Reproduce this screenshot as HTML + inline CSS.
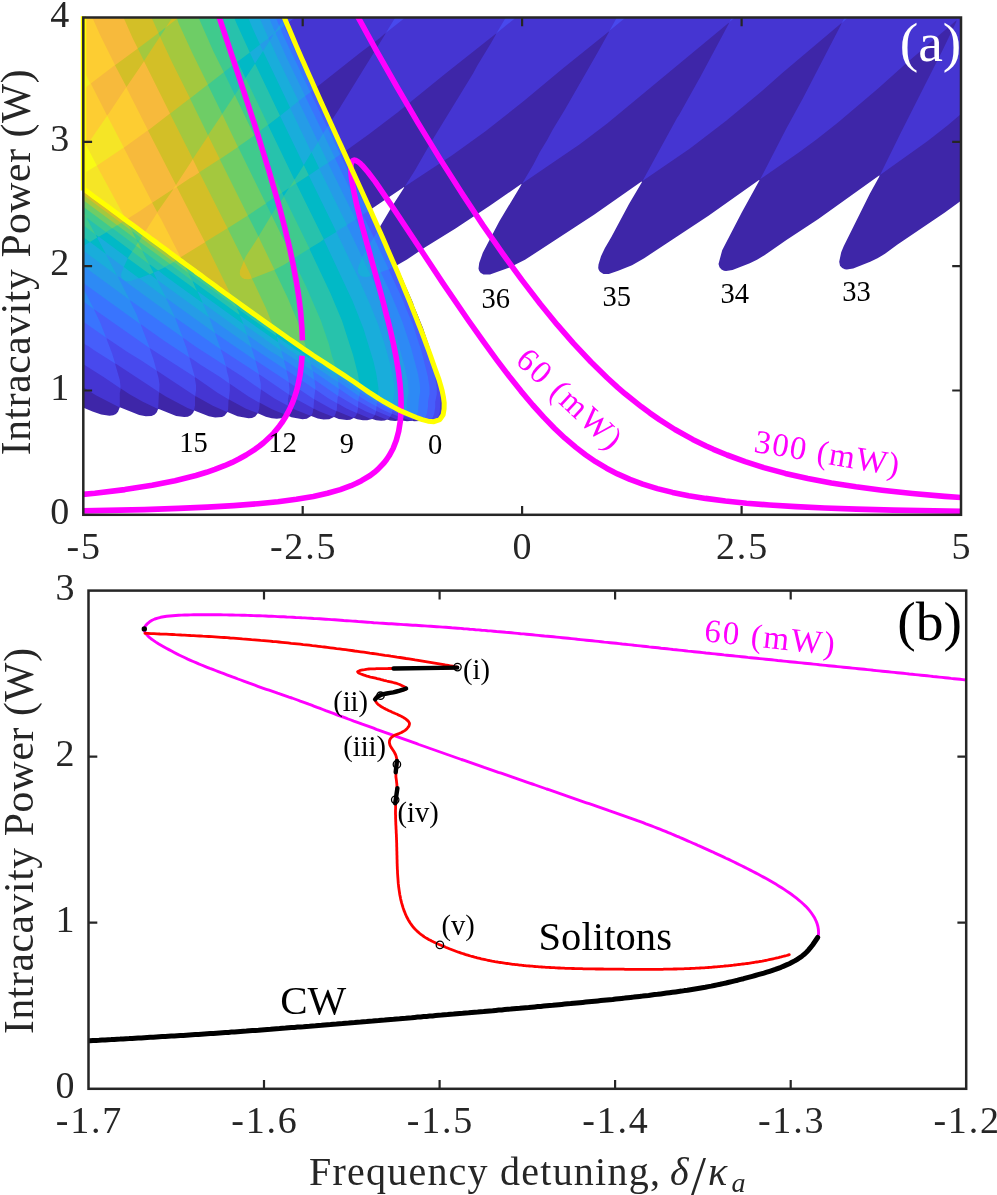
<!DOCTYPE html>
<html><head><meta charset="utf-8"><title>Figure</title><style>html,body{margin:0;padding:0;background:#fff}svg{display:block;will-change:transform}</style></head><body>
<svg width="997" height="1195" viewBox="0 0 997 1195">
<defs><clipPath id="ca"><rect x="83.3" y="17.5" width="877.7" height="497.3"/></clipPath><clipPath id="cb"><rect x="88.5" y="590.6" width="877.7" height="498.2"/></clipPath></defs>
<rect width="997" height="1195" fill="#fff"/>
<g clip-path="url(#ca)">
<path d="M76,411.8L77.8,408.2L78.2,405.5L92.5,411.5L101.2,414.5L109.5,415.8L113.2,415.2L116,414L118,411.8L119.8,407.2L139.2,415L145.8,416.2L151.5,416L154.8,414.5L156.8,412.2L158,409.2L158.8,409L176.2,416L184.2,417L187.8,416.8L190.8,415.2L193,413L194.2,410.5L208.8,416.2L215.2,417.5L222,417L224.5,415.8L227.5,412L237.5,416.2L248.5,418.2L252,418L255.2,416.5L257.8,413.2L265.8,416.8L271.8,418.2L276.8,418.8L281,418.2L283.5,417L285.8,414.8L291.5,417.2L302.5,419.2L306.8,418.8L311.2,416L317.8,418.5L323.5,419.5L329.2,419.2L334,417L338.8,419L346.8,420L350.2,419.8L353.8,418L357.2,419.2L363,420.2L367.2,420.2L372.2,419L376.2,420.2L381.2,420.8L384.8,420.5L387,419.5L390.2,420.5L395.2,421L400.5,420.2L407,421.2L412.2,420.8L414,421.2L420.2,421L434.8,421.8L439.5,420L441.8,417.8L443.5,414L444.2,409.5L444.2,402.5L442.2,389L439,376.2L423,328L414,306.2L413,302.8L396.5,265.5L407,259.5L425.2,247.2L455.5,228.5L489.8,205.8L521.2,184L521.5,184.5L499.5,221L482.8,252.8L479.2,263L478.5,268.5L479,270.5L480.5,272.8L483.5,274.5L490,274.5L509.5,267.5L525,259.8L594,214.8L641.5,181.5L642,182L629,204L611.5,236.8L604.8,248.2L601,256.2L598.5,264.5L598.2,268L598.8,270L600,271.8L603.5,274L608.8,274L618.2,270.8L632,265.2L644.2,258.2L708.5,215.8L759,180L759.5,180.2L742,212L722.2,250.2L718.5,264L719.5,267.2L721.5,269.5L724,270.8L726,271L732.5,270L749.8,263.2L757,259.8L764.5,255.2L786.8,239.8L818,219.2L879.5,175.2L879.2,176.8L869.8,193.8L843.8,246L841.2,252.2L839.2,261.8L840,265.8L842.2,268L844.8,269.2L846.8,269.5L853.2,268.5L870.2,261.8L877.5,258.2L885,253.8L897.2,244.8L944.5,212.8L970.8,193.5L970.8,10L76,10ZM404,187L404.2,187.5L391.8,206.8L379.5,227.5L371,209.2Z" fill="#3e26a8" fill-rule="evenodd"/>
<path d="M76,404.5L78,405.5L78.2,403.5L78,391.5L78.5,384L95.8,395.2L119.2,407.2L119.8,406.5L119.8,393L120.8,388.5L129.5,394.2L142.8,401.8L157.5,408.8L158.2,408.5L158.8,396L159,393L159.5,392.5L165.8,396.5L187.5,408L194,410.5L195,405.5L195,396.8L195.8,396.2L212.8,405.8L227,412L227.8,411L228.2,408.2L228.5,400.2L229,399.5L246,408.8L257.8,413.2L259.2,408.8L259.8,402.8L272,409.2L285.5,414.8L287.2,411L288,405.8L295.2,409.8L310.5,415.8L311.5,415.2L312.8,412.5L313.2,409L314,408.8L319,411.2L333,416.8L333.8,416.8L334.8,415.8L336.5,411L353.5,418L355.8,416L356.8,413.8L357.5,413.2L370.5,418.8L372.2,418.5L375,415L386.2,419.5L388.2,419L390.2,416.8L396,419.2L399.8,420.2L403,418.2L411,420.8L414,419.8L418.2,421L421.8,420.5L425,421.2L433.8,421.8L438.5,420L440.8,417.8L442.2,414.8L443.2,409.5L442.8,393.5L435,364.8L428.5,344.2L417.2,314L412.5,303.5L408,291.8L404.2,284L403.2,280.5L379.5,227.5L379.2,228L378.8,227.8L370.2,210.2L370.8,208.8L344.2,152L369.2,134L397.5,112.5L446.5,72.8L495.8,33.8L496,34.2L491.2,42.8L477.5,65.2L473.2,73.2L432.2,140.2L415,170.2L404.8,186.5L452.2,155.2L485.5,131.2L523.8,101L562.2,69L608.8,31.5L609,32L598.2,51.5L564.8,109.8L552.8,129.5L547,140.2L540,151.8L533,165.2L522.2,183.5L579.8,144.2L607.2,123.5L728.8,22.8L729,23.2L700.8,76L679.2,114.8L677,118L642.5,181L690,148.5L726.2,120.8L760.8,92L782,73.2L841.2,23.2L841.5,23.8L803.2,97.8L786.2,128.8L760.2,179.2L799.5,152L816.8,139.2L838,122.5L877.8,88.8L904,65.2L956.5,20.2L956.2,22L942.8,49.8L900.8,132.8L880,175L927,141.5L947.8,125.2L970.8,105.5L970.8,10L76,10ZM385.2,33.2L385.5,33.8L338,110.8L330.5,122L324.8,110.5L315,88.5L360.5,52.5L379.5,38.2Z" fill="#4535d2" fill-rule="evenodd"/>
<path d="M76,373.2L76,382.2L78.2,384L77,376.2ZM968.2,10L962,10L957,19.8ZM856.8,10L848.5,10L841.8,23ZM743.8,10L736,10L729.5,22ZM634.8,10L621,10L609.5,30.8ZM525.2,10L510.2,10L496.5,33.2ZM414.8,10L399.8,10L386,32.8ZM76,10L76,359.5L103.2,376.8L120.2,388.2L120.5,386.5L119.8,380L115.2,364.2L115.5,363.5L159.2,392.2L159.5,384.2L158.5,377.8L156.8,371.5L157,370.8L195.2,396L196,390.5L196,385L194.8,378.2L195.2,377.2L217.5,392.8L228.8,399.5L229.8,390.2L229.8,383.8L248.5,396.5L259.5,402.8L261,389.5L274.5,398.5L287.8,405.8L288,399L289,394.5L295.5,398.8L313.5,408.5L314.2,399.2L331.2,408.8L336.2,411L336.8,410L337.2,403.8L337.8,403.5L346,408.2L356.5,413L357.2,412.5L358.2,407.5L366,411.5L374.8,415L376.2,411L390,416.8L392,413.8L402.8,418.2L404.8,416.2L412.8,419.5L415.5,418.5L420.8,420.5L422.5,420L426.8,421.2L430.8,421.5L433.2,421L435.8,419.8L437.8,417.8L439.8,412L440.8,390.5L438.8,379.2L428,349.2L421.2,328L420,325.8L414.8,311L395,266.5L396.2,265.2L379,228.2L378.5,228.5L353.8,173L343.8,152.2L344.2,152L341.5,145.8L337.5,138L331.2,123.8L329.8,121.5L316,91.2L315,88L300.2,55.5L287,24.2L287.2,23.5L304.5,10L289,10L284.2,17.2L281,10Z" fill="#4849ed" fill-rule="evenodd"/>
<path d="M76,10L76,337.8L86,345L88.2,346L93.8,350L115.2,363.5L112,353.2L106.5,338.8L107,338.2L127.8,352.2L140.2,359.8L156.5,370.5L153.5,359.5L149.8,348.8L150,348.2L194.8,377L189.5,358L190,357.5L200.5,364.8L220.5,377.2L229.2,383.5L228.8,378L227,371.8L226.2,366.2L243,377L260.8,389.5L260.8,384L259,375L259.5,374.5L288.8,394.5L289.5,389.2L288.8,382.8L289.2,382.5L314,399.2L315.2,390L315.8,389.8L327.8,398L337,403.2L337.8,397L338.5,396L358,407.5L358.2,401.8L358.8,401.5L376,411L376.5,406.8L377,406.5L381,409L391.5,413.8L392.5,411L404.2,416.2L405.8,414.5L414.2,418.2L415.8,417.5L424.8,420.8L428,421L430.5,419.8L432.8,417.2L434.2,413.8L435.2,407L435.2,402L436.8,394.2L436.8,387.2L434,371.5L426.5,344.2L404.8,289L394.8,267L395,266.2L382,236.8L381,233.5L378.8,228.8L378,230.2L377.2,230.5L368,211.5L370,210L369.8,208.8L343,152.8L343.8,152.2L331,123.8L330.2,122.2L329.5,123.5L329,123.2L313.2,90L314.8,88L294.8,44.5L286.8,25.8L286.5,24.2L287,23.8L284.2,17.5L283.5,17.8L280.5,10.2Z" fill="#465efb" fill-rule="evenodd"/>
<path d="M76,10L76,316.5L106,337.5L100,322L94.2,310L94.5,309.5L149.8,348.2L140.8,324.8L141.2,324.5L164.5,341L189.2,357.2L186.5,348L183,338.8L183.5,338L196.2,347L225.8,366L222.8,355L220.8,350L221,349.5L259,374.2L255.5,361L255.8,360.5L288.8,382.2L288.2,377.2L286.5,371L286.8,370.2L315.2,389.5L315.5,387.2L314.5,381L315,380L337.8,395.8L338.2,395.2L339,388.8L353.2,398.5L358.2,401.2L359.2,396.2L367.8,401.8L376.2,406.2L376.8,405.8L376.8,403L377.2,402.8L392.2,411L392.5,409L393,408.8L398.2,411.8L405.5,414.5L406,413.5L415.2,417.5L416,417.2L422,419.8L423.5,419.5L425.2,417.5L427,413.5L428,406.8L428,401.8L429.5,394L429.5,387.2L428,377L421.5,351.2L412.8,324.2L405,306L404,302.5L388.8,269.8L389.2,269L394.5,266.2L377.5,231L373.8,237.2L362.8,215.2L363.2,214.2L368,211.2L340.2,154.8L343,152.5L329.2,123.8L327.5,126.8L326.8,126.5L310.5,92.2L313.2,89.8L295.8,52.8L284,26L286.2,24L283.8,18.2L282.2,20.5L281.8,20.2L277.5,10.2Z" fill="#3974fe" fill-rule="evenodd"/>
<path d="M76,10L76,296.2L94,309.2L79.5,281L79.8,280.5L140.2,324L136.5,314.2L130.5,302L130.2,300.2L182.8,337.5L175.2,318.2L175.8,318L220.8,349.5L215.2,333.8L215.5,333.2L255.5,360.5L251.5,347.8L252,347.5L286.5,370.2L284,360.8L284.2,360L299,369.8L301.2,370.8L314.2,379.8L313,371.2L338.8,388.8L338.2,382.5L338.8,382.2L358.8,396L359.2,395.8L360,392.2L377,402.8L377.2,400.2L392.8,408.5L392.8,407.5L393.2,407.2L404,413L408.5,414L415.8,417.2L418,411.8L419,398.5L420.2,391.8L419.8,384L418,374L411.2,348.2L402.2,321.2L389.8,291.2L380.8,272.2L388.8,269.2L373.8,237.5L368.5,245.8L355.8,219.8L356,219L362.5,214.5L335,158.2L340.2,154.5L327.2,127.2L323.2,133.2L305.2,96.2L310,92.5L310.2,91.8L282.2,33.2L280.8,28.8L284,26L282.2,21L279.2,25.2L278.8,24.8L272.8,10Z" fill="#2d8af5" fill-rule="evenodd"/>
<path d="M76,274.2L76,277.8L79.2,280.2ZM76,10L76,260.5L129.8,300L118,277L118.5,276.5L175.2,317.8L166.2,298.8L166.5,298.2L215.2,333.2L209.5,318.2L210,318L251.5,347.2L247.5,335.8L247.8,335.2L270.5,351.2L278.5,356L284,360L281.8,353.2L281.5,350.8L312.8,371L311,365L311.2,364.2L338.2,382L337.8,377L348.5,384L359.8,392.2L359.8,389L360.2,388.8L376.8,400L377.5,398.5L388.5,405L406,413.2L406.8,408.8L407,401.2L408.5,393.8L408.5,389L407.8,381L405,367.8L398.5,344.2L391.8,323.8L381.8,299.2L371.2,276.5L371.5,275.8L377.8,273.5L380.8,271.8L368.5,246L362.5,256.8L362,256.8L347,225.5L347.2,224.8L355.2,219.8L355.5,219L328,163L335,158L323.2,133.5L318,141.8L298.5,101.2L305.2,96L286.8,58L275.5,32.8L280.5,28.8L279.2,25.5L275.2,31.5L274.8,31.2L265.8,10ZM273,34.5L273.2,35L269.8,40.2L268.5,38.2Z" fill="#259ce7" fill-rule="evenodd"/>
<path d="M362.2,257L358.2,267.2L357.8,269.8L358.2,272.8L360.2,275.5L362.8,276.8L366.8,277L371,276ZM275.2,32L273.5,34.2L275.5,32.8ZM76,10L76,252L76.2,250.2L80,248.2L117.2,275.8L106.2,254.8L106.8,254.5L123.5,267L121,274.2L121.5,277.5L123.2,279.8L125.8,281L129.5,281.2L139.2,278.2L166.2,298.2L157.5,280.8L157.8,280.2L209.2,317.5L203,303.8L203.5,303.5L247.2,335L243.8,325L244,324.5L281.2,350.8L278.8,343.2L279,342.8L289.2,350L310.8,364L309.5,359.2L310,358.8L337.5,377L336.5,373.8L337,373.2L359.8,388.5L360,386.8L377.2,398.5L377.5,397.8L392.8,406.8L393,401L394.8,391.2L394.2,383.5L390.5,365L384,342L377.8,323.5L370.2,304.8L357.8,276.8L336.5,232.2L338,230.5L346.8,225.2L346.8,224.5L319.5,169L320,168L328,162.8L318,142L311.8,151.8L311,151.5L290.2,108L298.5,101L277.5,57.8L269.8,40.5L263,51L260,44.5L268.5,38.2L261.2,21.8L256.8,10.2Z" fill="#19addb" fill-rule="evenodd"/>
<path d="M76,10L76,245.2L79.8,248.2L90,242L106,254L97.2,237.8L99,236.8L127.8,258.2L123.8,267L139,278.2L149.8,274.2L157.2,280L153.5,272.8L158,270.8L159,271L163.5,274.8L202.5,303L202.2,301.5L197.5,291.8L198,291.5L243.5,324.2L240,316L240.2,315.5L278.2,342.2L276.8,337L277,336.5L292,347.2L309.5,358.5L308.8,355L336.5,373L336.2,371.2L337.5,371.5L359.8,386.8L360,386L377.2,397.8L378.2,393L378.5,388.5L376.2,373.2L373.5,361.5L363.5,328.8L352.8,301.5L324,240L324.2,239.2L335.8,232.2L336.2,231.5L308.8,175.5L319.2,168.2L311.5,152.2L303.8,165L280.2,116.2L280.8,115.2L290.2,107.8L263,51L255,63.5L249.8,52.5L260,44.5L252,27L245.2,10Z" fill="#01b9c6" fill-rule="evenodd"/>
<path d="M76,10L76,231.8L90,242L97.2,237.5L96,235.5L96.2,235L98.8,236.8L106.5,232.2L132.2,251.5L127.8,258.2L149.8,274.2L153.5,272.8L149.5,265L150,264.5L158,270.5L165,267.2L193.2,287.8L197,291L192.8,281.8L193,281.2L239.5,315L239.2,313.2L237,308.8L237.5,308.5L276.5,336.2L275.2,332.5L275.5,332L286.5,340L308.5,354.8L308.2,352.8L335.5,370.5L336,370.8L336.2,370.2L359.8,386L358,374.5L353.2,355.5L342,320.8L330.2,292.8L309.5,249L310.2,248L320.2,242L323.8,239.2L296.2,183.5L308.8,175.2L303.8,165L295.2,178.8L294.2,179.2L268,125L280,115.8L255.2,64L254.8,64L245.5,78L237.5,61.8L249.8,52.5L236.8,24L231,10ZM289,188L283.8,196L282,192.8Z" fill="#27c2ac" fill-rule="evenodd"/>
<path d="M294.5,179.8L289.5,187.8L296.2,183.2ZM76,10L76,219.8L95.2,234.2L86.8,218.5L87,218L106,232L111.5,228.8L112.8,228.5L135,245L135.8,246L132.2,251.5L149,264L142.5,251.5L143,251L164.5,267L169.5,264.2L170.5,264.5L192.2,280.8L188.8,273.8L189,273.2L231.8,304L236.2,307.8L236.8,307.8L234.8,303.8L235.2,303.2L275,331.8L274.2,329.8L274.5,329.2L307,352L307.8,352.5L307.8,351.8L335.8,370L333.8,360.8L332.2,357L328.8,343.8L320.8,320.5L306.2,286.8L293.2,259.5L294,258.2L309.5,248.5L284,196.5L271.5,214.8L266,203.8L267.2,202.2L282,192.8L254.2,135.8L255.2,134.5L268,124.8L245.8,78.5L234.8,95L223.8,72.2L237.5,61.5L221.2,26.5L214.5,10ZM136.8,239.5L139,241.2L138,242.5L136.5,240Z" fill="#40ca8d" fill-rule="evenodd"/>
<path d="M138,242.5L136,245.8L142,250.2ZM76,10L76,209.8L86,217L78.5,203.8L79,203.5L112.2,228.2L117.2,225.2L136.2,239.2L132.2,231.8L132.8,231.5L141,238L139.2,241.5L170,264L173.8,262L188.2,272.8L185.8,267.8L186.2,267.5L234.2,302.5L233.5,301L234,300.2L273.8,328.8L274,328.2L298,345.2L307.2,351.2L303.2,337.8L297,320L287.5,297.5L274.5,270.2L275,269.5L284,264.8L293.2,259L271.5,215L258.5,236.5L247.8,215.5L265.8,203.5L238.2,147.2L238.8,146.2L253.8,135.8L254,135L234.8,95L222.2,114L207.8,84.8L223.8,72.2L213.2,51L195.2,10Z" fill="#6ecd66" fill-rule="evenodd"/>
<path d="M76,199L76,201.2L78,202.8ZM76,10L76,194.8L117.2,225.2L121.2,223L131.5,230.8L129.2,226L129.5,225.5L142.8,235.5L141.2,237.8L141.5,238.2L172.2,261L173.8,261.8L175.8,260.2L176.5,260.2L185.5,267L184,264.5L184.2,264L224,293.2L232.8,299.5L233.2,299L273.8,328L266,308.2L252,278.5L274.5,269.8L258.5,236.8L246,256L243.8,260.8L227.8,228.8L228,228L247.8,215.5L219.8,159.2L238,147L222.2,114.2L208,135.2L190,98.5L207.8,84.5L192.5,53.5L178.5,23L177.2,19.2L178.2,17.8L188.2,10L177.2,10L175,13.2L173.2,10ZM165.2,27.8L165.2,28.8L160,36.5L158.5,33Z" fill="#a4c83e" fill-rule="evenodd"/>
<path d="M243.8,261L240,270.5L239.8,273.2L240.2,275.5L242,277.8L244.5,279L248.5,279.2L251.8,278.5L250.5,274.8ZM174.8,13.8L166,27.2L177,18.8ZM76,10L76,189.5L120.8,222.8L123.8,221.2L129,225.2L127.5,222.8L128,222.2L143.5,234L142.8,235.5L166.2,252.5L170,255.8L176,260L177.8,259L183.5,263.5L183.8,263L232.8,298.8L205.2,242.5L205.5,241.8L227.5,228.2L199.5,172.8L199.8,172L219.8,159L208.2,135.8L192.8,159L170,113.8L190,98.2L171.5,61.2L160,36.5L144,61L137.8,48.5L158.5,33L148.2,10Z" fill="#d3bf27" fill-rule="evenodd"/>
<path d="M76,10L76,186.2L123.8,221L125,220.2L127,221.8L127.5,221.2L143.5,233L144,234.2L174.8,257L177.2,258.8L178.2,258.8L183,262.2L180.8,257.8L181,257L205,242.2L176.8,187L189.8,178.2L194,176L199.2,172.5L192.8,159.2L176,185L148,130.5L170,113.5L144,61.2L126.5,87L115,65.2L137.8,48.5L132.8,38.5L120.2,10ZM172.8,189.2L173,189.8L157.2,212.2L152.2,202.8Z" fill="#f7ba3c" fill-rule="evenodd"/>
<path d="M157.2,212.8L144,233.5L178.2,258.8L180.5,257L161,219ZM176,185.2L173.5,189L176.8,186.8ZM76,10L76,184L120.8,216.8L124.5,220L126.2,220.5L126,219.8L139.5,211.2L152.2,202.5L123.8,147.8L148,130.2L126.2,87.2L108.8,113.5L107.2,115.2L106.8,115L90.8,83.5L115,65L100.2,35.2L89,10Z" fill="#fdcd32" fill-rule="evenodd"/>
<path d="M76,126L76,183.2L125.5,220L125.8,219.2L96.8,165.8L123.8,147.5L107.2,115.8L86.5,145.8ZM76,54.8L76,95L90.5,83.8ZM76,16.2L84,10L76,10Z" fill="#f5e526" fill-rule="evenodd"/>
<path d="M86.5,145.8L76,161.5L76,178.8L83.5,173.5L96.8,165.5Z" fill="#f9fb15" fill-rule="evenodd"/>
</g>
<g clip-path="url(#ca)" fill="none" stroke-linejoin="round" stroke-linecap="round">
<path d="M61.9,511.3L144.2,509.6L178.4,508.4L207.4,507.1L233.7,505.6L257.7,503.7L278,501.7L296.4,499.3L313.3,496.4L327.4,493.3L340.3,489.6L351,485.7L356.4,483.3L361.5,480.7L370.2,475.5L374.4,472.3L377.8,469.4L383.9,463L386.6,459.5L389.1,455.8L393.1,448.5L396.3,440.2L398.7,431.2L400.3,421.3L401.1,409.7L401,397.5L400.1,384.8L398.5,371.7L396.3,358.1L393.4,343.6L389.7,327.4L381.5,295.8L361.4,223.4L357.1,206.3L353.9,192L351.5,178.1L350.9,172.6L350.8,168.2L351,164.7L351.7,162.1L352.8,160.6L354.3,160.1L355.8,160.5L357.6,161.4L359.8,163.1L362.2,165.4L367.9,172L375.2,181.6L391.4,205.3L443.2,283.6L468.1,320L483.1,341.2L496.7,359.8L509,376L521,391.1L532.7,405L543.9,417.4L554.4,428.2L565,438.2L575.9,447.4L585.8,455L595.6,461.7L606.5,468.2L617.5,473.9L629.9,479.4L642.7,484.1L657.3,488.6L672.5,492.4L688.6,495.7L705.6,498.4L725.4,501L746.5,503.2L769.3,505L795.9,506.6L824.8,508L856.3,509.1L893.3,510.1L984.8,511.7" stroke="#f0f" stroke-width="5.6"/>
<path d="M62.2,496.4L94.9,493.3L124.8,489.6L152.1,485.3L175,480.7L195.9,475.5L206.5,472.3L214.9,469.4L224.5,465.7L232.1,462.4L239.3,458.8L246.1,455L255,449.3L259.5,446L263.6,442.7L270.8,436.1L273.9,432.8L279.3,426.2L281.7,422.9L285.8,416.4L289.3,409.9L292.2,403.4L294.6,397L296.6,390.6L298.2,384.2L300.1,374.6L301.3,365.2L302.1,355.8" stroke="#f0f" stroke-width="5.6" stroke-linecap="butt"/>
<path d="M302.4,340.3L301.9,328L300.7,312.8L298.9,297.7L296.6,282.9L293.3,265.2L289.6,247.9L284.8,227.9L279.7,208.3L268.7,170.1L254.9,125.4L240.9,82.6L207.7,-17.4L193.9,-60" stroke="#f0f" stroke-width="5.6" stroke-linecap="butt"/>
<path d="M318.3,-60L336.4,-23.9L356.3,13.9L376.6,51.1L397.3,87.5L418,122.8L440.3,159.4L462.7,194.5L482.9,225.1L502.7,253.6L521.8,279.9L540.1,303.7L557.4,324.9L573.5,343.4L591,362L607.1,377.8L617.6,387.4L625.1,393.8L641.2,406.6L650,413.1L659.4,419.6L674.9,429.5L692.7,439.4L706.1,446L713.4,449.3L727.1,455L745.2,461.7L763.8,467.6L785.3,473.4L807.8,478.4L831.3,482.9L856,486.8L882.1,490.2L912.4,493.5L944.7,496.4L982.4,499.1" stroke="#f0f" stroke-width="5.6"/>
<path d="M273.7,-8.8L275.9,-3.2L278.1,2.4L280.4,8L282.7,13.6L285,19.2L287.3,24.7L289.7,30.3L292,35.8L294.4,41.4L296.7,46.9L299.1,52.5L301.5,58L304,63.5L306.4,69L308.8,74.5L311.3,80L313.7,85.6L316.2,91.1L318.6,96.6L321.1,102.1L323.6,107.5L326.1,113L328.6,118.5L331.1,124L333.6,129.5L336.1,135L338.6,140.5L341.1,145.9L343.6,151.4L346.1,156.9L348.6,162.4L351.1,167.9L353.6,173.4L356.1,178.8L358.6,184.3L361.1,189.8L363.6,195.3L366.1,200.8L368.6,206.3L371.1,211.8L373.5,217.3L376,222.8L378.4,228.3L380.9,233.8L383.3,239.3L385.7,244.8L388.1,250.4L390.5,255.9L392.9,261.4L395.3,267L397.7,272.5L400,278.1L402.3,283.6L404.6,289.2L406.9,294.8L409.2,300.4L411.5,306L413.7,311.6L415.9,317.2L418.1,322.8L420.3,328.4L422.5,334L424.6,339.7L426.7,345.3L428.8,351L430.8,356.6L432.8,362.3L434.8,368L436.8,373.7L438.9,379.4L440.6,385.1L442.2,391L443.4,396.9L444.2,402.9L444.1,408.9L443.1,414.8L439.8,419.7L434,421.7L428,421.2L422.2,419.7L416.5,417.5L411,415.2L405.4,412.9L399.9,410.5L394.5,407.6L389.3,404.7L384,401.8L378.8,398.7L373.8,395.4L368.7,392.1L363.8,388.7L358.8,385.2L353.8,381.8L348.8,378.5L343.8,375.2L338.7,371.9L333.7,368.6L328.6,365.3L323.6,362L318.5,358.8L313.4,355.5L308.4,352.1L303.4,348.8L298.5,345.4L293.5,341.9L288.5,338.5L283.6,335L278.7,331.6L273.8,328.1L268.8,324.6L263.9,321.1L259,317.6L254.1,314.1L249.2,310.6L244.3,307.1L239.4,303.5L234.6,300L229.7,296.5L224.8,292.9L219.9,289.4L215.1,285.8L210.2,282.3L205.3,278.7L200.5,275.1L195.6,271.6L190.8,268L185.9,264.4L181,260.9L176.2,257.3L171.3,253.7L166.5,250.1L161.6,246.5L156.8,242.9L151.9,239.4L147.1,235.8L142.2,232.2L137.4,228.6L132.6,225L127.7,221.4L122.9,217.9L118,214.3L113.2,210.7L108.3,207.1L103.4,203.5L98.6,200L93.7,196.4L88.9,192.8L84,189.3L79.1,185.7L74.3,182.1L69.4,178.6L64.6,175" stroke="#ff0" stroke-width="5"/>
</g>
<path d="M83.5,16.2V190.6" stroke="#ff0" stroke-width="5.4" fill="none"/>
<g stroke="#262626" stroke-width="2.5" fill="none" stroke-linecap="butt">
<rect x="83.3" y="17.5" width="877.7" height="497.3"/>
<path d="M302.7,514.8v-8.8 M302.7,17.5v8.8M522.1,514.8v-8.8 M522.1,17.5v8.8M741.6,514.8v-8.8 M741.6,17.5v8.8M83.3,390.5h8.8 M961,390.5h-8.8M83.3,266.1h8.8 M961,266.1h-8.8M83.3,141.8h8.8 M961,141.8h-8.8" stroke-width="2.2"/>
</g>
<text x="84.2" y="558.7" font-size="38" text-anchor="middle" letter-spacing="1.8" fill="#262626" font-family="'Liberation Serif','DejaVu Serif',serif">-5</text>
<text x="303.6" y="558.7" font-size="38" text-anchor="middle" letter-spacing="1.8" fill="#262626" font-family="'Liberation Serif','DejaVu Serif',serif">-2.5</text>
<text x="523" y="558.7" font-size="38" text-anchor="middle" letter-spacing="1.8" fill="#262626" font-family="'Liberation Serif','DejaVu Serif',serif">0</text>
<text x="742.5" y="558.7" font-size="38" text-anchor="middle" letter-spacing="1.8" fill="#262626" font-family="'Liberation Serif','DejaVu Serif',serif">2.5</text>
<text x="961.9" y="558.7" font-size="38" text-anchor="middle" letter-spacing="1.8" fill="#262626" font-family="'Liberation Serif','DejaVu Serif',serif">5</text>
<text x="69.3" y="523.8" font-size="38" text-anchor="end" fill="#262626" font-family="'Liberation Serif','DejaVu Serif',serif">0</text>
<text x="69.3" y="399.5" font-size="38" text-anchor="end" fill="#262626" font-family="'Liberation Serif','DejaVu Serif',serif">1</text>
<text x="69.3" y="275.1" font-size="38" text-anchor="end" fill="#262626" font-family="'Liberation Serif','DejaVu Serif',serif">2</text>
<text x="69.3" y="150.8" font-size="38" text-anchor="end" fill="#262626" font-family="'Liberation Serif','DejaVu Serif',serif">3</text>
<text x="69.3" y="26.5" font-size="38" text-anchor="end" fill="#262626" font-family="'Liberation Serif','DejaVu Serif',serif">4</text>
<g clip-path="url(#cb)" fill="none" stroke-linejoin="round" stroke-linecap="round">
<path d="M972,680.6L969,680.3L966,680L963,679.6L960,679.3L957.1,679L954.1,678.7L951.1,678.4L948.1,678L945.1,677.7L942.1,677.4L939.1,677.1L936.1,676.8L933.1,676.5L930.2,676.1L927.2,675.8L924.2,675.5L921.2,675.2L918.2,674.9L915.2,674.6L912.2,674.3L909.2,674L906.2,673.6L903.2,673.3L900.3,673L897.3,672.7L894.3,672.4L891.3,672.1L888.3,671.8L885.3,671.5L882.3,671.2L879.3,670.9L876.3,670.6L873.3,670.3L870.4,669.9L867.4,669.6L864.4,669.3L861.4,669L858.4,668.7L855.4,668.4L852.4,668.1L849.4,667.8L846.4,667.5L843.4,667.2L840.5,666.9L837.5,666.6L834.5,666.3L831.5,666L828.5,665.7L825.5,665.4L822.5,665.1L819.5,664.8L816.5,664.4L813.5,664.1L810.6,663.8L807.6,663.5L804.6,663.2L801.6,662.9L798.6,662.6L795.6,662.3L792.6,662L789.6,661.7L786.6,661.4L783.6,661.1L780.7,660.8L777.7,660.5L774.7,660.1L771.7,659.8L768.7,659.5L765.7,659.2L762.7,658.9L759.7,658.6L756.7,658.3L753.7,658L750.8,657.7L747.8,657.4L744.8,657L741.8,656.7L738.8,656.4L735.8,656.1L732.8,655.8L729.8,655.5L726.8,655.2L723.9,654.9L720.9,654.5L717.9,654.2L714.9,653.9L711.9,653.6L708.9,653.3L705.9,653L702.9,652.6L699.9,652.3L696.9,652L694,651.7L691,651.4L688,651.1L685,650.7L682,650.4L679,650.1L676,649.8L673,649.5L670,649.1L667.1,648.8L664.1,648.5L661.1,648.2L658.1,647.8L655.1,647.5L652.1,647.2L649.1,646.9L646.1,646.5L643.2,646.2L640.2,645.9L637.2,645.6L634.2,645.3L631.2,644.9L628.2,644.6L625.2,644.3L622.2,644L619.2,643.6L616.3,643.3L613.3,643L610.3,642.7L607.3,642.4L604.3,642.1L601.3,641.7L598.3,641.4L595.3,641.1L592.3,640.8L589.4,640.5L586.4,640.2L583.4,639.9L580.4,639.6L577.4,639.3L574.4,638.9L571.4,638.6L568.4,638.3L565.4,638L562.4,637.7L559.5,637.4L556.5,637.1L553.5,636.8L550.5,636.5L547.5,636.2L544.5,636L541.5,635.7L538.5,635.4L535.5,635.1L532.5,634.8L529.5,634.5L526.5,634.2L523.6,633.9L520.6,633.7L517.6,633.4L514.6,633.1L511.6,632.8L508.6,632.5L505.6,632.3L502.6,632L499.6,631.7L496.6,631.5L493.6,631.2L490.6,630.9L487.6,630.7L484.6,630.4L481.6,630.2L478.6,629.9L475.6,629.7L472.7,629.4L469.7,629.2L466.7,628.9L463.7,628.7L460.7,628.4L457.7,628.2L454.7,628L451.7,627.8L448.7,627.5L445.7,627.3L442.7,627.1L439.7,626.9L436.7,626.7L433.7,626.5L430.7,626.3L427.7,626.1L424.7,625.9L421.7,625.7L418.7,625.5L415.7,625.3L412.7,625.2L409.7,625L406.7,624.8L403.7,624.6L400.7,624.4L397.7,624.2L394.7,624L391.7,623.8L388.7,623.7L385.7,623.5L382.7,623.3L379.7,623.1L376.7,622.9L373.7,622.7L370.7,622.4L367.7,622.2L364.7,622L361.7,621.8L358.7,621.6L355.7,621.3L352.7,621.1L349.7,620.9L346.7,620.7L343.7,620.5L340.7,620.2L337.7,620L334.7,619.8L331.7,619.6L328.7,619.4L325.7,619.2L322.7,619L319.7,618.8L316.7,618.6L313.7,618.5L310.7,618.3L307.7,618.1L304.7,617.9L301.7,617.8L298.7,617.6L295.7,617.5L292.7,617.3L289.7,617.1L286.7,617L283.7,616.8L280.7,616.7L277.7,616.6L274.7,616.4L271.7,616.3L268.7,616.2L265.7,616L262.7,615.9L259.7,615.8L256.7,615.7L253.7,615.6L250.7,615.5L247.7,615.4L244.7,615.3L241.7,615.2L238.7,615.1L235.7,615.1L232.6,615L229.6,615L226.6,614.9L223.6,614.9L220.6,614.8L217.6,614.8L214.6,614.8L211.6,614.8L208.6,614.7L205.6,614.7L202.6,614.8L199.6,614.8L196.6,614.8L193.6,614.8L190.6,614.9L187.6,615L184.6,615L181.6,615.1L178.6,615.3L175.6,615.5L172.6,615.7L169.6,616L166.6,616.3L163.6,616.8L160.6,617.3L157.7,618.1L154.8,619L152.1,620.2L149.6,621.8L147.2,623.8L145.2,626.2L144.2,629L144.8,631.8L146.6,634.5L148.7,636.8L151,638.7L153.4,640.4L155.9,642.1L158.4,643.7L161,645.2L163.6,646.7L166.3,648.2L168.9,649.6L171.6,651.1L174.2,652.5L176.9,653.9L179.6,655.2L182.3,656.5L185,657.8L187.7,659.1L190.5,660.3L193.2,661.5L196,662.7L198.7,663.9L201.5,665L204.3,666.2L207.1,667.3L209.9,668.4L212.7,669.4L215.5,670.5L218.3,671.6L221.1,672.7L223.9,673.7L226.8,674.8L229.6,675.8L232.4,676.9L235.2,677.9L238,679L240.8,680L243.7,681.1L246.5,682.1L249.3,683.2L252.1,684.2L254.9,685.2L257.8,686.3L260.6,687.3L263.4,688.3L266.3,689.3L269.1,690.2L271.9,691.2L274.8,692.2L277.6,693.2L280.5,694.1L283.3,695.1L286.2,696.1L289,697.1L291.9,698L294.7,699L297.5,700L300.3,701.1L303.2,702.1L306,703.1L308.8,704.2L311.6,705.2L314.4,706.3L317.2,707.4L320.1,708.4L322.9,709.5L325.7,710.6L328.5,711.6L331.3,712.7L334.1,713.7L336.9,714.8L339.7,715.9L342.6,716.9L345.4,717.9L348.2,719L351,720L353.8,721.1L356.7,722.1L359.5,723.1L362.3,724.2L365.1,725.2L368,726.2L370.8,727.2L373.6,728.2L376.4,729.3L379.3,730.3L382.1,731.3L384.9,732.3L387.8,733.3L390.6,734.3L393.4,735.4L396.3,736.4L399.1,737.4L401.9,738.4L404.7,739.4L407.6,740.4L410.4,741.4L413.2,742.4L416.1,743.4L418.9,744.5L421.7,745.5L424.6,746.5L427.4,747.5L430.2,748.5L433.1,749.5L435.9,750.5L438.7,751.5L441.6,752.5L444.4,753.5L447.2,754.5L450.1,755.5L452.9,756.5L455.7,757.5L458.6,758.5L461.4,759.5L464.3,760.4L467.1,761.4L469.9,762.4L472.8,763.4L475.6,764.4L478.5,765.4L481.3,766.4L484.1,767.4L487,768.3L489.8,769.3L492.7,770.3L495.5,771.3L498.3,772.3L501.2,773.2L504,774.2L506.9,775.2L509.7,776.2L512.5,777.2L515.4,778.2L518.2,779.1L521.1,780.1L523.9,781.1L526.7,782.1L529.6,783.1L532.4,784L535.3,785L538.1,786L540.9,787L543.8,788L546.6,789L549.5,789.9L552.3,790.9L555.2,791.9L558,792.9L560.8,793.9L563.7,794.9L566.5,795.8L569.3,796.8L572.2,797.8L575,798.8L577.9,799.8L580.7,800.8L583.5,801.8L586.4,802.8L589.2,803.7L592.1,804.7L594.9,805.7L597.7,806.7L600.6,807.7L603.4,808.7L606.3,809.7L609.1,810.7L611.9,811.6L614.8,812.6L617.6,813.6L620.4,814.6L623.3,815.6L626.1,816.6L628.9,817.6L631.8,818.6L634.6,819.6L637.4,820.7L640.3,821.7L643.1,822.7L645.9,823.8L648.7,824.8L651.5,825.9L654.3,827L657.1,828.1L659.9,829.2L662.7,830.3L665.5,831.4L668.3,832.6L671.1,833.7L673.8,834.9L676.6,836.1L679.4,837.2L682.1,838.4L684.9,839.6L687.6,840.8L690.4,842L693.1,843.2L695.9,844.4L698.6,845.7L701.4,846.9L704.1,848.1L706.9,849.4L709.6,850.6L712.4,851.8L715.1,853.1L717.8,854.3L720.6,855.6L723.3,856.9L726,858.2L728.7,859.4L731.4,860.7L734.1,862L736.8,863.4L739.5,864.7L742.2,866L744.9,867.4L747.6,868.7L750.3,870.1L752.9,871.5L755.6,872.9L758.3,874.3L760.9,875.7L763.5,877.1L766.2,878.6L768.8,880.1L771.4,881.6L774,883.1L776.6,884.6L779.1,886.2L781.7,887.8L784.2,889.4L786.7,891.1L789.2,892.8L791.7,894.5L794.1,896.3L796.5,898.2L798.8,900.1L801.1,902L803.3,904L805.5,906.1L807.6,908.3L809.6,910.6L811.4,913L813.1,915.5L814.7,918.1L816,920.8L817.1,923.6L817.9,926.5L818.4,929.5L818.6,932.5L818.4,935.5L817.7,938.5" stroke="#f0f" stroke-width="2.9"/>
<path d="M144.9,633.3L147.9,633.4L151,633.6L154,633.7L157.1,633.8L160.1,634L163.2,634.1L166.2,634.2L169.3,634.4L172.3,634.5L175.4,634.7L178.4,634.8L181.5,635L184.5,635.1L187.6,635.3L190.6,635.5L193.7,635.6L196.7,635.8L199.8,636L202.8,636.2L205.9,636.3L208.9,636.5L212,636.7L215,636.9L218.1,637.1L221.1,637.3L224.1,637.5L227.2,637.7L230.2,638L233.3,638.2L236.3,638.4L239.4,638.6L242.4,638.9L245.5,639.1L248.5,639.3L251.5,639.6L254.6,639.8L257.6,640.1L260.7,640.4L263.7,640.6L266.7,640.9L269.8,641.2L272.8,641.5L275.9,641.7L278.9,642L281.9,642.3L285,642.6L288,642.9L291.1,643.3L294.1,643.6L297.1,643.9L300.2,644.2L303.2,644.6L306.2,644.9L309.3,645.2L312.3,645.6L315.3,645.9L318.4,646.3L321.4,646.7L324.4,647L327.4,647.4L330.5,647.8L333.5,648.2L336.5,648.6L339.6,648.9L342.6,649.3L345.6,649.7L348.6,650.1L351.7,650.5L354.7,651L357.7,651.4L360.7,651.8L363.8,652.2L366.8,652.6L369.8,653.1L372.8,653.5L375.8,653.9L378.9,654.4L381.9,654.8L384.9,655.3L387.9,655.7L390.9,656.2L394,656.6L397,657.1L400,657.5L403,658L406,658.5L409.1,658.9L412.1,659.4L415.1,659.9L418.1,660.3L421.1,660.8L424.1,661.3L427.1,661.8L430.2,662.3L433.2,662.8L436.2,663.3L439.2,663.8L442.2,664.3L445.2,664.9L448.2,665.4L451.2,666L454.2,666.5L457.2,667.1" stroke="#f00" stroke-width="2.8"/>
<path d="M457.2,667.6L456.3,667.7L455.3,667.7L454.3,667.8L453.2,667.8L452.1,667.9L451,667.9L449.9,667.9L448.7,668L447.5,668L446.3,668L445.1,668.1L443.8,668.1L442.5,668.1L441.2,668.2L439.9,668.2L438.5,668.2L437.1,668.2L435.7,668.2L434.3,668.3L432.9,668.3L431.5,668.3L430,668.3L428.5,668.3L427,668.3L425.5,668.3L424,668.4L422.5,668.4L421,668.4L419.5,668.4L417.9,668.4L416.4,668.4L414.8,668.4L413.3,668.4L411.7,668.4L410.2,668.4L408.6,668.4L407.1,668.4L405.5,668.4L404,668.4L402.4,668.4L400.9,668.5L399.3,668.5L397.8,668.5L396.3,668.5L394.8,668.5L393.3,668.5L391.8,668.5L390.3,668.5L388.8,668.5L387.4,668.6L385.9,668.6L384.5,668.6L383.1,668.6L381.7,668.6L380.3,668.7L379,668.7L377.7,668.7L376.3,668.7L375.1,668.8L373.8,668.8L372.6,668.8L371.3,668.9L370.1,668.9L368.8,669L367.5,669.1L366.1,669.3L364.6,669.6L363,669.8L361.3,670.2L359.5,670.7L358.2,671.2L357.6,671.8L358.1,672.5L359.3,673.3L361,674L362.7,674.6L364.2,675.2L365.7,675.7L367,676.1L368.3,676.4L369.6,676.8L370.8,677.1L372,677.3L373.2,677.6L374.4,677.9L375.7,678.2L377.1,678.6L378.4,678.9L379.8,679.2L381.2,679.6L382.5,679.9L383.9,680.3L385.3,680.6L386.7,681L388,681.3L389.4,681.6L390.7,681.9L391.9,682.2L393.2,682.5L394.4,682.8L395.7,683.1L397,683.5L398.3,684L399.7,684.5L401.2,685.2L402.7,685.9L404.2,686.7L405.4,687.6L406.1,688.4L405.9,689L405.1,689.6L403.7,690L402,690.4L400.2,690.7L398.4,691L396.7,691.4L395.2,691.7L393.8,692L392.5,692.3L391.3,692.6L390.1,692.9L388.9,693.1L387.6,693.4L386.4,693.6L385.1,693.9L383.7,694.2L382.3,694.5L380.9,695L379.4,695.5L377.9,696.2L376.5,697L375.6,698L375.1,699.1L375.3,700.4L375.9,701.8L376.7,702.9L377.7,704L378.7,704.9L379.9,705.7L381,706.5L382.3,707.2L383.5,707.9L384.7,708.5L385.9,709.2L387.2,709.8L388.4,710.4L389.7,711L391,711.6L392.2,712.2L393.5,712.7L394.7,713.3L395.9,713.8L397.2,714.3L398.4,714.9L399.6,715.5L400.8,716.1L402.1,716.7L403.3,717.4L404.6,718.2L405.9,719.1L407.1,720.1L408.2,721.1L409,722.2L409.5,723.4L409.4,724.6L409,725.9L408.2,727.2L407.2,728.4L406.2,729.4L405.1,730.3L403.9,731.1L402.7,731.8L401.5,732.5L400.3,733L399,733.6L397.6,734.1L396.3,734.6L395,735.1L393.7,735.7L392.6,736.5L391.5,737.4L390.6,738.4L389.9,739.7L389.5,741L389.4,742.4L389.6,743.7L390,745.1L390.6,746.4L391.3,747.6L392.1,748.8L392.9,750L393.6,751.1L394.4,752.3L395,753.5L395.6,754.7L396.1,756.1L396.4,757.4L396.7,758.8L396.9,760.2L397,761.6L396.9,763L396.9,764.4L396.8,765.7L396.6,767.1L396.4,768.5L396.3,769.9L396.1,771.3L396,772.7L395.9,774.1L395.9,775.4L395.9,776.8L396.1,778.2L396.3,779.6L396.5,781L396.6,782.3L396.8,783.7L396.9,785.1L396.9,786.5L396.9,787.9L396.8,789.3L396.7,790.7L396.6,792.1L396.5,793.5L396.4,794.8L396.3,796.2L396.2,797.6L396.1,799L396,800.4L395.9,801.8L395.8,803.2L395.7,804.5L395.6,805.9L395.6,807.3L395.6,808.7L395.5,810.1L395.5,811.5L395.5,812.9L395.5,814.3L395.6,815.6L395.6,817L395.6,818.4L395.7,819.8L395.7,821.2L395.8,822.6L395.8,824L395.9,825.4L396,826.8L396,828.1L396.1,829.5L396.2,830.9L396.2,832.3L396.3,833.7L396.4,835.1L396.4,836.5L396.5,837.9L396.5,839.3L396.6,840.7L396.6,842L396.7,843.4L396.7,844.8L396.7,846.2L396.8,847.6L396.8,849L396.8,850.4L396.9,851.8L396.9,853.2L396.9,854.5L397,855.9L397,857.3L397,858.7L397.1,860.1L397.1,861.5L397.1,862.9L397.2,864.3L397.2,865.7L397.3,867L397.3,868.4L397.4,869.8L397.5,871.2L397.5,872.6L397.6,874L397.7,875.4L397.8,876.8L397.9,878.2L398,879.5L398.1,880.9L398.2,882.3L398.3,883.7L398.5,885.1L398.6,886.5L398.8,887.8L399,889.2L399.2,890.6L399.4,892L399.6,893.3L399.8,894.7L400.1,896.1L400.4,897.4L400.6,898.8L400.9,900.2L401.3,901.5L401.6,902.9L402,904.2L402.4,905.5L402.8,906.9L403.2,908.2L403.7,909.5L404.1,910.8L404.7,912.1L405.2,913.4L405.7,914.7L406.3,916L406.9,917.3L407.6,918.5L408.2,919.7L408.9,920.9L409.7,922.1L410.4,923.3L411.2,924.4L412.1,925.6L412.9,926.7L413.8,927.7L414.7,928.8L415.7,929.8L416.7,930.7L417.7,931.7L418.8,932.6L419.8,933.5L420.9,934.4L422,935.2L423.2,936L424.3,936.8L425.5,937.6L426.7,938.3L427.9,939L429.1,939.7L430.4,940.3L431.6,941L432.8,941.6L434.1,942.2L435.4,942.8L436.6,943.3L437.9,943.9L439.2,944.5L440.4,945L441.7,945.6L443,946.1L444.3,946.6L445.6,947.2L446.9,947.7L448.2,948.2L449.4,948.7L450.7,949.2L452,949.7L453.3,950.2L454.6,950.7L455.9,951.2L457.2,951.7L458.5,952.2L459.9,952.6L461.2,953.1L462.5,953.5L463.8,953.9L465.1,954.4L466.5,954.8L467.8,955.2L469.1,955.6L470.5,956L471.8,956.3L473.1,956.7L474.5,957.1L475.8,957.4L477.2,957.8L478.5,958.1L479.9,958.4L481.2,958.8L482.6,959.1L483.9,959.4L485.3,959.7L486.7,960L488,960.3L489.4,960.5L490.8,960.8L492.1,961.1L493.5,961.3L494.9,961.6L496.2,961.8L497.6,962L499,962.3L500.3,962.5L501.7,962.7L503.1,962.9L504.5,963.1L505.8,963.3L507.2,963.5L508.6,963.7L510,963.9L511.4,964.1L512.7,964.3L514.1,964.4L515.5,964.6L516.9,964.7L518.3,964.9L519.6,965.1L521,965.2L522.4,965.3L523.8,965.5L525.2,965.6L526.5,965.8L527.9,965.9L529.3,966L530.7,966.1L532.1,966.2L533.5,966.4L534.9,966.5L536.2,966.6L537.6,966.7L539,966.8L540.4,966.9L541.8,967L543.2,967.1L544.6,967.2L545.9,967.3L547.3,967.3L548.7,967.4L550.1,967.5L551.5,967.6L552.9,967.7L554.3,967.7L555.7,967.8L557,967.9L558.4,968L559.8,968L561.2,968.1L562.6,968.1L564,968.2L565.4,968.3L566.8,968.3L568.2,968.4L569.5,968.4L570.9,968.4L572.3,968.5L573.7,968.5L575.1,968.6L576.5,968.6L577.9,968.6L579.3,968.7L580.7,968.7L582,968.7L583.4,968.8L584.8,968.8L586.2,968.8L587.6,968.8L589,968.9L590.4,968.9L591.8,968.9L593.2,968.9L594.5,968.9L595.9,969L597.3,969L598.7,969L600.1,969L601.5,969L602.9,969L604.3,969.1L605.7,969.1L607.1,969.1L608.4,969.1L609.8,969.1L611.2,969.1L612.6,969.1L614,969.1L615.4,969.2L616.8,969.2L618.2,969.2L619.6,969.2L621,969.2L622.3,969.2L623.7,969.2L625.1,969.3L626.5,969.3L627.9,969.3L629.3,969.3L630.7,969.3L632.1,969.3L633.5,969.3L634.8,969.3L636.2,969.4L637.6,969.4L639,969.4L640.4,969.4L641.8,969.4L643.2,969.4L644.6,969.4L646,969.4L647.4,969.4L648.7,969.4L650.1,969.4L651.5,969.4L652.9,969.4L654.3,969.4L655.7,969.4L657.1,969.3L658.5,969.3L659.9,969.3L661.2,969.3L662.6,969.3L664,969.2L665.4,969.2L666.8,969.2L668.2,969.2L669.6,969.1L671,969.1L672.4,969.1L673.8,969L675.1,969L676.5,969L677.9,968.9L679.3,968.9L680.7,968.8L682.1,968.8L683.5,968.8L684.9,968.7L686.3,968.7L687.6,968.6L689,968.6L690.4,968.5L691.8,968.4L693.2,968.4L694.6,968.3L696,968.2L697.4,968.2L698.7,968.1L700.1,968L701.5,967.9L702.9,967.8L704.3,967.8L705.7,967.7L707.1,967.6L708.5,967.5L709.8,967.4L711.2,967.3L712.6,967.1L714,967L715.4,966.9L716.8,966.8L718.1,966.7L719.5,966.6L720.9,966.4L722.3,966.3L723.7,966.2L725.1,966L726.5,965.9L727.8,965.8L729.2,965.6L730.6,965.5L732,965.3L733.4,965.2L734.7,965L736.1,964.9L737.5,964.7L738.9,964.5L740.3,964.4L741.6,964.2L743,964L744.4,963.9L745.8,963.7L747.2,963.5L748.5,963.3L749.9,963.1L751.3,962.9L752.7,962.7L754,962.5L755.4,962.2L756.8,962L758.1,961.8L759.5,961.5L760.9,961.3L762.3,961.1L763.6,960.8L765,960.5L766.3,960.3L767.7,960L769.1,959.7L770.4,959.4L771.8,959.1L773.1,958.8L774.5,958.5L775.9,958.2L777.2,957.9L778.6,957.6L779.9,957.2L781.3,956.9L782.6,956.5L783.9,956.2L785.3,955.8L786.6,955.5L788,955.1L789.3,954.7" stroke="#f00" stroke-width="2.8"/>
<path d="M84,1041.1L87,1040.9L90,1040.8L93,1040.6L96,1040.4L99,1040.3L102.1,1040.1L105.1,1039.9L108.1,1039.7L111.1,1039.6L114.1,1039.4L117.1,1039.2L120.1,1039.1L123.1,1038.9L126.1,1038.7L129.1,1038.6L132.1,1038.4L135.1,1038.2L138.2,1038L141.2,1037.9L144.2,1037.7L147.2,1037.5L150.2,1037.3L153.2,1037.2L156.2,1037L159.2,1036.8L162.2,1036.6L165.2,1036.5L168.2,1036.3L171.2,1036.1L174.3,1035.9L177.3,1035.7L180.3,1035.5L183.3,1035.4L186.3,1035.2L189.3,1035L192.3,1034.8L195.3,1034.6L198.3,1034.4L201.3,1034.2L204.3,1034L207.3,1033.8L210.3,1033.6L213.3,1033.4L216.4,1033.2L219.4,1033L222.4,1032.8L225.4,1032.6L228.4,1032.4L231.4,1032.1L234.4,1031.9L237.4,1031.7L240.4,1031.5L243.4,1031.3L246.4,1031.1L249.4,1030.8L252.4,1030.6L255.4,1030.4L258.4,1030.2L261.4,1029.9L264.4,1029.7L267.4,1029.5L270.5,1029.3L273.5,1029L276.5,1028.8L279.5,1028.6L282.5,1028.3L285.5,1028.1L288.5,1027.8L291.5,1027.6L294.5,1027.4L297.5,1027.1L300.5,1026.9L303.5,1026.7L306.5,1026.4L309.5,1026.2L312.5,1025.9L315.5,1025.7L318.5,1025.4L321.5,1025.2L324.5,1024.9L327.5,1024.7L330.5,1024.5L333.5,1024.2L336.5,1024L339.5,1023.7L342.5,1023.5L345.6,1023.2L348.6,1023L351.6,1022.7L354.6,1022.5L357.6,1022.2L360.6,1022L363.6,1021.7L366.6,1021.5L369.6,1021.2L372.6,1021L375.6,1020.7L378.6,1020.5L381.6,1020.2L384.6,1020L387.6,1019.7L390.6,1019.4L393.6,1019.2L396.6,1018.9L399.6,1018.7L402.6,1018.4L405.6,1018.2L408.6,1017.9L411.6,1017.7L414.6,1017.4L417.6,1017.1L420.6,1016.9L423.6,1016.6L426.6,1016.4L429.6,1016.1L432.6,1015.9L435.6,1015.6L438.6,1015.3L441.6,1015.1L444.6,1014.8L447.6,1014.6L450.6,1014.3L453.6,1014.1L456.6,1013.8L459.7,1013.5L462.7,1013.3L465.7,1013L468.7,1012.8L471.7,1012.5L474.7,1012.2L477.7,1012L480.7,1011.7L483.7,1011.5L486.7,1011.2L489.7,1010.9L492.7,1010.7L495.7,1010.4L498.7,1010.1L501.7,1009.9L504.7,1009.6L507.7,1009.3L510.7,1009.1L513.7,1008.8L516.7,1008.5L519.7,1008.3L522.7,1008L525.7,1007.7L528.7,1007.5L531.7,1007.2L534.7,1006.9L537.7,1006.6L540.7,1006.4L543.7,1006.1L546.7,1005.8L549.7,1005.5L552.7,1005.3L555.7,1005L558.7,1004.7L561.7,1004.4L564.7,1004.1L567.7,1003.8L570.7,1003.6L573.7,1003.3L576.7,1003L579.7,1002.7L582.7,1002.4L585.7,1002.1L588.7,1001.8L591.7,1001.5L594.7,1001.2L597.7,1000.9L600.7,1000.6L603.7,1000.3L606.7,1000L609.7,999.7L612.7,999.4L615.7,999L618.7,998.7L621.7,998.4L624.7,998.1L627.7,997.7L630.7,997.4L633.7,997.1L636.6,996.7L639.6,996.4L642.6,996.1L645.6,995.7L648.6,995.4L651.6,995L654.6,994.6L657.6,994.3L660.6,993.9L663.6,993.5L666.6,993.1L669.5,992.7L672.5,992.3L675.5,991.9L678.5,991.5L681.5,991.1L684.5,990.6L687.4,990.2L690.4,989.7L693.4,989.2L696.4,988.7L699.4,988.2L702.3,987.7L705.3,987.2L708.3,986.6L711.2,986.1L714.2,985.5L717.1,984.9L720.1,984.3L723,983.6L726,983L728.9,982.3L731.8,981.6L734.8,980.9L737.7,980.2L740.6,979.4L743.5,978.7L746.4,977.9L749.3,977.1L752.3,976.3L755.2,975.5L758.1,974.7L761,973.9L763.9,973.1L766.8,972.2L769.6,971.3L772.5,970.3L775.3,969.4L778.2,968.3L781,967.3L783.8,966.1L786.5,964.9L789.3,963.7L792,962.3L794.7,960.9L797.3,959.3L799.8,957.7L802.2,955.9L804.6,954L806.7,951.9L808.8,949.7L810.7,947.4L812.6,945L814.3,942.5L816,940L817.7,937.5" stroke="#000" stroke-width="5"/>
<path d="M457.2,667.6L393.6,668.5" stroke="#000" stroke-width="4.4"/>
<path d="M406.1,688.5L402.9,689.7L399.8,690.7L396.6,691.5L393.3,692.3L390,692.9L386.7,693.5L383.4,694.2L380.3,695.2L377.4,696.8L375.1,699.4" stroke="#000" stroke-width="4.4"/>
<path d="M396.9,761L395.7,772.2" stroke="#000" stroke-width="4.4"/>
<path d="M397.4,788.1L395.2,803.2" stroke="#000" stroke-width="4.4"/>
<circle cx="457.5" cy="667.1" r="3.7" stroke="#000" stroke-width="1.3"/>
<circle cx="380.5" cy="695.7" r="3.7" stroke="#000" stroke-width="1.3"/>
<circle cx="396.9" cy="764.4" r="3.7" stroke="#000" stroke-width="1.3"/>
<circle cx="395.2" cy="799.8" r="3.7" stroke="#000" stroke-width="1.3"/>
<circle cx="439.9" cy="944.9" r="3.7" stroke="#000" stroke-width="1.3"/>
<circle cx="144.3" cy="628.9" r="2.7" fill="#000"/>
</g>
<g stroke="#262626" stroke-width="2.5" fill="none" stroke-linecap="butt">
<rect x="88.5" y="590.6" width="877.7" height="498.2"/>
<path d="M264,1088.8v-8.8 M264,590.6v8.8M439.6,1088.8v-8.8 M439.6,590.6v8.8M615.1,1088.8v-8.8 M615.1,590.6v8.8M790.7,1088.8v-8.8 M790.7,590.6v8.8M88.5,922.7h8.8 M966.2,922.7h-8.8M88.5,756.7h8.8 M966.2,756.7h-8.8" stroke-width="2.2"/>
</g>
<text x="89.4" y="1132.7" font-size="38" text-anchor="middle" letter-spacing="1.8" fill="#262626" font-family="'Liberation Serif','DejaVu Serif',serif">-1.7</text>
<text x="264.9" y="1132.7" font-size="38" text-anchor="middle" letter-spacing="1.8" fill="#262626" font-family="'Liberation Serif','DejaVu Serif',serif">-1.6</text>
<text x="440.5" y="1132.7" font-size="38" text-anchor="middle" letter-spacing="1.8" fill="#262626" font-family="'Liberation Serif','DejaVu Serif',serif">-1.5</text>
<text x="616" y="1132.7" font-size="38" text-anchor="middle" letter-spacing="1.8" fill="#262626" font-family="'Liberation Serif','DejaVu Serif',serif">-1.4</text>
<text x="791.6" y="1132.7" font-size="38" text-anchor="middle" letter-spacing="1.8" fill="#262626" font-family="'Liberation Serif','DejaVu Serif',serif">-1.3</text>
<text x="967.1" y="1132.7" font-size="38" text-anchor="middle" letter-spacing="1.8" fill="#262626" font-family="'Liberation Serif','DejaVu Serif',serif">-1.2</text>
<text x="74.5" y="1097.8" font-size="38" text-anchor="end" fill="#262626" font-family="'Liberation Serif','DejaVu Serif',serif">0</text>
<text x="74.5" y="931.7" font-size="38" text-anchor="end" fill="#262626" font-family="'Liberation Serif','DejaVu Serif',serif">1</text>
<text x="74.5" y="765.7" font-size="38" text-anchor="end" fill="#262626" font-family="'Liberation Serif','DejaVu Serif',serif">2</text>
<text x="74.5" y="599.6" font-size="38" text-anchor="end" fill="#262626" font-family="'Liberation Serif','DejaVu Serif',serif">3</text>
<text transform="translate(30,262.3) rotate(-90)" font-size="41.5" text-anchor="middle" fill="#262626" font-family="'Liberation Serif','DejaVu Serif',serif" textLength="386" lengthAdjust="spacing">Intracavity Power (W)</text>
<text transform="translate(33,841) rotate(-90)" font-size="41.5" text-anchor="middle" fill="#262626" font-family="'Liberation Serif','DejaVu Serif',serif" textLength="386" lengthAdjust="spacing">Intracavity Power (W)</text>
<text x="308.9" y="1184.6" font-size="40" fill="#262626" font-family="'Liberation Serif','DejaVu Serif',serif"><tspan textLength="351" lengthAdjust="spacing">Frequency detuning,</tspan><tspan x="670" font-style="italic">δ</tspan><tspan x="691" dy="9" font-size="54">/</tspan><tspan x="708" dy="-9" font-style="italic">κ</tspan><tspan x="731.5" dy="7" font-size="28" font-style="italic">a</tspan></text>
<text x="193.5" y="451.8" font-size="28.5" text-anchor="middle" fill="#000" font-family="'Liberation Serif','DejaVu Serif',serif" >15</text>
<text x="282.6" y="451.8" font-size="28.5" text-anchor="middle" fill="#000" font-family="'Liberation Serif','DejaVu Serif',serif" >12</text>
<text x="346.8" y="453" font-size="28.5" text-anchor="middle" fill="#000" font-family="'Liberation Serif','DejaVu Serif',serif" >9</text>
<text x="435.1" y="453.8" font-size="28.5" text-anchor="middle" fill="#000" font-family="'Liberation Serif','DejaVu Serif',serif" >0</text>
<text x="495.7" y="307.6" font-size="28.5" text-anchor="middle" fill="#000" font-family="'Liberation Serif','DejaVu Serif',serif" >36</text>
<text x="616.7" y="305.9" font-size="28.5" text-anchor="middle" fill="#000" font-family="'Liberation Serif','DejaVu Serif',serif" >35</text>
<text x="734.7" y="303.2" font-size="28.5" text-anchor="middle" fill="#000" font-family="'Liberation Serif','DejaVu Serif',serif" >34</text>
<text x="856.4" y="300.6" font-size="28.5" text-anchor="middle" fill="#000" font-family="'Liberation Serif','DejaVu Serif',serif" >33</text>
<text x="930.5" y="61.3" font-size="55.5" text-anchor="middle" fill="#fff" font-family="'Liberation Serif','DejaVu Serif',serif" >(a)</text>
<text x="929.6" y="639.5" font-size="55.5" text-anchor="middle" fill="#000" font-family="'Liberation Serif','DejaVu Serif',serif" >(b)</text>
<text transform="translate(569.5,400) rotate(43)" font-size="33" letter-spacing="1.8" text-anchor="middle" fill="#f0f" font-family="'Liberation Serif','DejaVu Serif',serif" dy="10">60 (mW)</text>
<text transform="translate(827.5,454) rotate(9.5)" font-size="33" letter-spacing="1.4" text-anchor="middle" fill="#f0f" font-family="'Liberation Serif','DejaVu Serif',serif" dy="10">300 (mW)</text>
<text transform="translate(770.5,638.3) rotate(6)" font-size="33" letter-spacing="1.8" text-anchor="middle" fill="#f0f" font-family="'Liberation Serif','DejaVu Serif',serif" dy="10">60 (mW)</text>
<text x="463" y="679.3" font-size="28.5" text-anchor="start" fill="#000" font-family="'Liberation Serif','DejaVu Serif',serif" >(i)</text>
<text x="368" y="711.1" font-size="28.5" text-anchor="end" fill="#000" font-family="'Liberation Serif','DejaVu Serif',serif" >(ii)</text>
<text x="386" y="756.3" font-size="28.5" text-anchor="end" fill="#000" font-family="'Liberation Serif','DejaVu Serif',serif" >(iii)</text>
<text x="397.5" y="821.6" font-size="28.5" text-anchor="start" fill="#000" font-family="'Liberation Serif','DejaVu Serif',serif" >(iv)</text>
<text x="441.5" y="935" font-size="28.5" text-anchor="start" fill="#000" font-family="'Liberation Serif','DejaVu Serif',serif" >(v)</text>
<text x="605.2" y="949.6" font-size="40.5" text-anchor="middle" fill="#000" font-family="'Liberation Serif','DejaVu Serif',serif" textLength="133.5" lengthAdjust="spacing">Solitons</text>
<text x="313.2" y="1014" font-size="41" text-anchor="middle" fill="#000" font-family="'Liberation Serif','DejaVu Serif',serif" >CW</text>
</svg>
</body></html>
